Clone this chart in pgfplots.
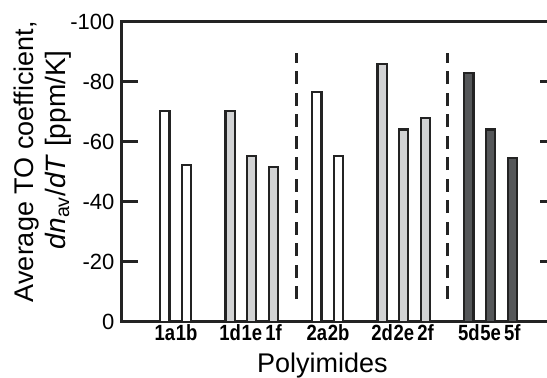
\documentclass[border=0pt]{standalone}
\usepackage{pgfplots}
\pgfplotsset{compat=1.18}
\usepackage{fontspec}
\setmainfont{Liberation Sans}
\newfontfamily\condfont[FakeStretch=0.84]{Liberation Sans}
\definecolor{lgray}{RGB}{210,211,212}
\definecolor{dgray}{RGB}{85,87,89}
\definecolor{edge}{RGB}{35,35,35}
\begin{document}
\begin{tikzpicture}
\begin{axis}[
  name=ax,
  at={(0,0)}, anchor=south west,
  scale only axis,
  width=434.3pt, height=300pt,
  xmin=0, xmax=20,
  ymin=-100, ymax=0,
  y dir=reverse,
  axis line style={line width=2.5pt, draw=edge},
  ytick={-100,-80,-60,-40,-20,0},
  yticklabels={-100,-80,-60,-40,-20,0},
  tick align=inside,
  major tick length=16pt,
  ytick style={line width=2.5pt, draw=edge},
  yticklabel style={font=\fontsize{22}{26}\selectfont, inner sep=3pt, xshift=-4pt},
  xtick={2,3,5,6,7,9,10,12,13,14,16,17,18},
  xticklabels={1a,1b,1d,1e,1f,2a,2b,2d,2e,2f,5d,5e,5f},
  xtick style={draw=none},
  xticklabel style={font=\condfont\fontsize{22}{24}\selectfont\bfseries, inner sep=1pt, yshift=14pt},
  ybar, bar width=0.42, bar shift=0pt,
  clip=false,
]
\addplot[fill=white, draw=edge, line width=2.2pt] coordinates {(2,-70.3) (3,-52.2) (9,-76.7) (10,-55.3)};
\addplot[fill=lgray, draw=edge, line width=2.2pt] coordinates {(5,-70.3) (6,-55.3) (7,-51.5) (12,-85.9) (13,-64.1) (14,-68.0)};
\addplot[fill=dgray, draw=edge, line width=2.2pt] coordinates {(16,-83.0) (17,-64.1) (18,-54.7)};
\addplot[sharp plot, draw=edge, line width=2.7pt, dash pattern=on 13pt off 8.5pt] coordinates {(8.05,-7.5) (8.05,-89.7)};
\addplot[sharp plot, draw=edge, line width=2.7pt, dash pattern=on 13pt off 8.5pt] coordinates {(15,-7.5) (15,-89.7)};
\end{axis}
\node[rotate=90, anchor=base, font=\fontsize{27}{32}\selectfont] at (-88pt,160pt) {Average TO coefficient,};
\node[rotate=90, anchor=base, font=\fontsize{28}{32}\selectfont] at (-56pt,172pt) {\textit{dn}\textsubscript{av}/\textit{dT} [ppm/K]};
\node[anchor=base, font=\fontsize{27}{32}\selectfont] at (201pt,-50.3pt) {Polyimides};
\pgfresetboundingbox
\path[use as bounding box] (-121.5pt,-56.3pt) rectangle (425.5pt,321.7pt);
\end{tikzpicture}
\end{document}
